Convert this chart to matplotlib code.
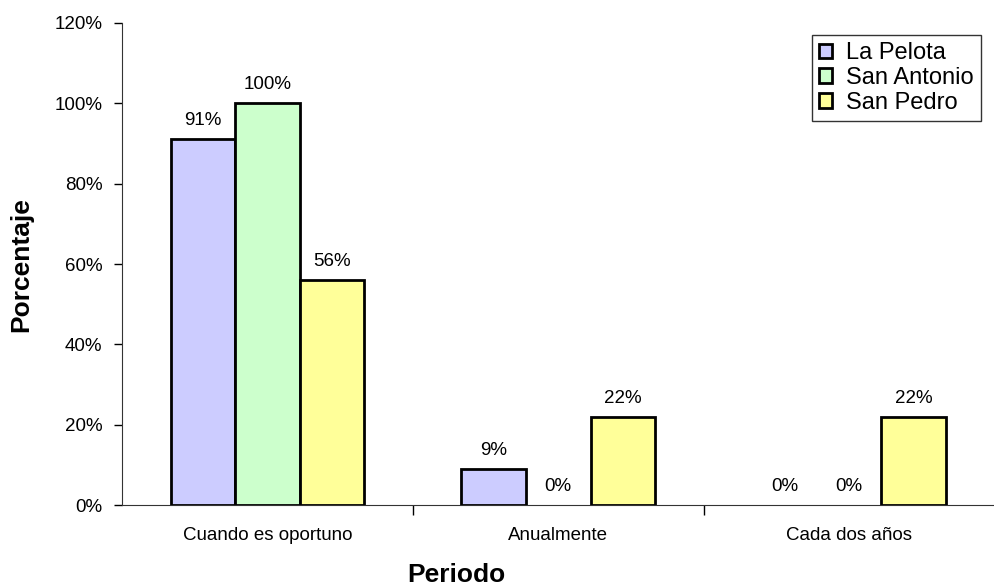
import matplotlib.pyplot as plt
import numpy as np

plt.rcParams['font.family'] = ['Liberation Sans', 'DejaVu Sans']

categories = ["Cuando es oportuno", "Anualmente", "Cada dos años"]
series = ["La Pelota", "San Antonio", "San Pedro"]
la_pelota = [91, 9, 0]
san_antonio = [100, 0, 0]
san_pedro = [56, 22, 22]
colors = ["#CCCCFF", "#CCFFCC", "#FFFF99"]

fig = plt.figure(figsize=(9.95, 5.88), dpi=100)
ax = fig.add_axes([0.1226, 0.141, 0.877, 0.82])

x = np.arange(len(categories))
w = 0.222
for i, (name, vals) in enumerate(zip(series, [la_pelota, san_antonio, san_pedro])):
    pos = x + (i - 1) * w
    bars = ax.bar(pos, vals, width=w, color=colors[i], edgecolor="black", linewidth=2, label=name)
    for b, v in zip(bars, vals):
        if v == 0:
            b.set_linewidth(0)
    for p, v in zip(pos, vals):
        ax.text(p, v + 2.5, f"{v}%", ha="center", va="bottom", fontsize=13.5)

ax.set_xlim(-0.5, 2.5)
ax.set_ylim(0, 120)
ax.set_yticks(range(0, 121, 20))
ax.set_yticklabels([f"{t}%" for t in range(0, 121, 20)], fontsize=13.5)
ax.set_xticks(x)
ax.set_xticklabels(categories, fontsize=13.5)
ax.tick_params(axis="x", length=0, pad=16)
ax.set_xticks([0.5, 1.5], minor=True)
ax.tick_params(axis="x", which="minor", length=7, width=1, direction="out")
ax.tick_params(axis="y", length=6, width=1, direction="out", pad=8)

for s in ["top", "right"]:
    ax.spines[s].set_visible(False)
ax.spines["left"].set_color("#333333")
ax.spines["bottom"].set_color("#333333")

fig.text(456 / 995, 1 - 575 / 588, "Periodo", fontsize=19, fontweight="bold",
         ha="center", va="center")
fig.text(21 / 995, 1 - 265 / 588, "Porcentaje", fontsize=19, fontweight="bold",
         ha="center", va="center", rotation=90)

leg = ax.legend(loc="upper right", bbox_to_anchor=(0.986, 1 - 35 / 588),
                bbox_transform=fig.transFigure, fontsize=17,
                frameon=True, fancybox=False, borderpad=0.3, labelspacing=0.12,
                handlelength=0.55, handleheight=0.55, handletextpad=0.6, borderaxespad=0)
leg.get_frame().set_edgecolor("black")
leg.get_frame().set_linewidth(1)

fig.savefig("out.png", dpi=100)
